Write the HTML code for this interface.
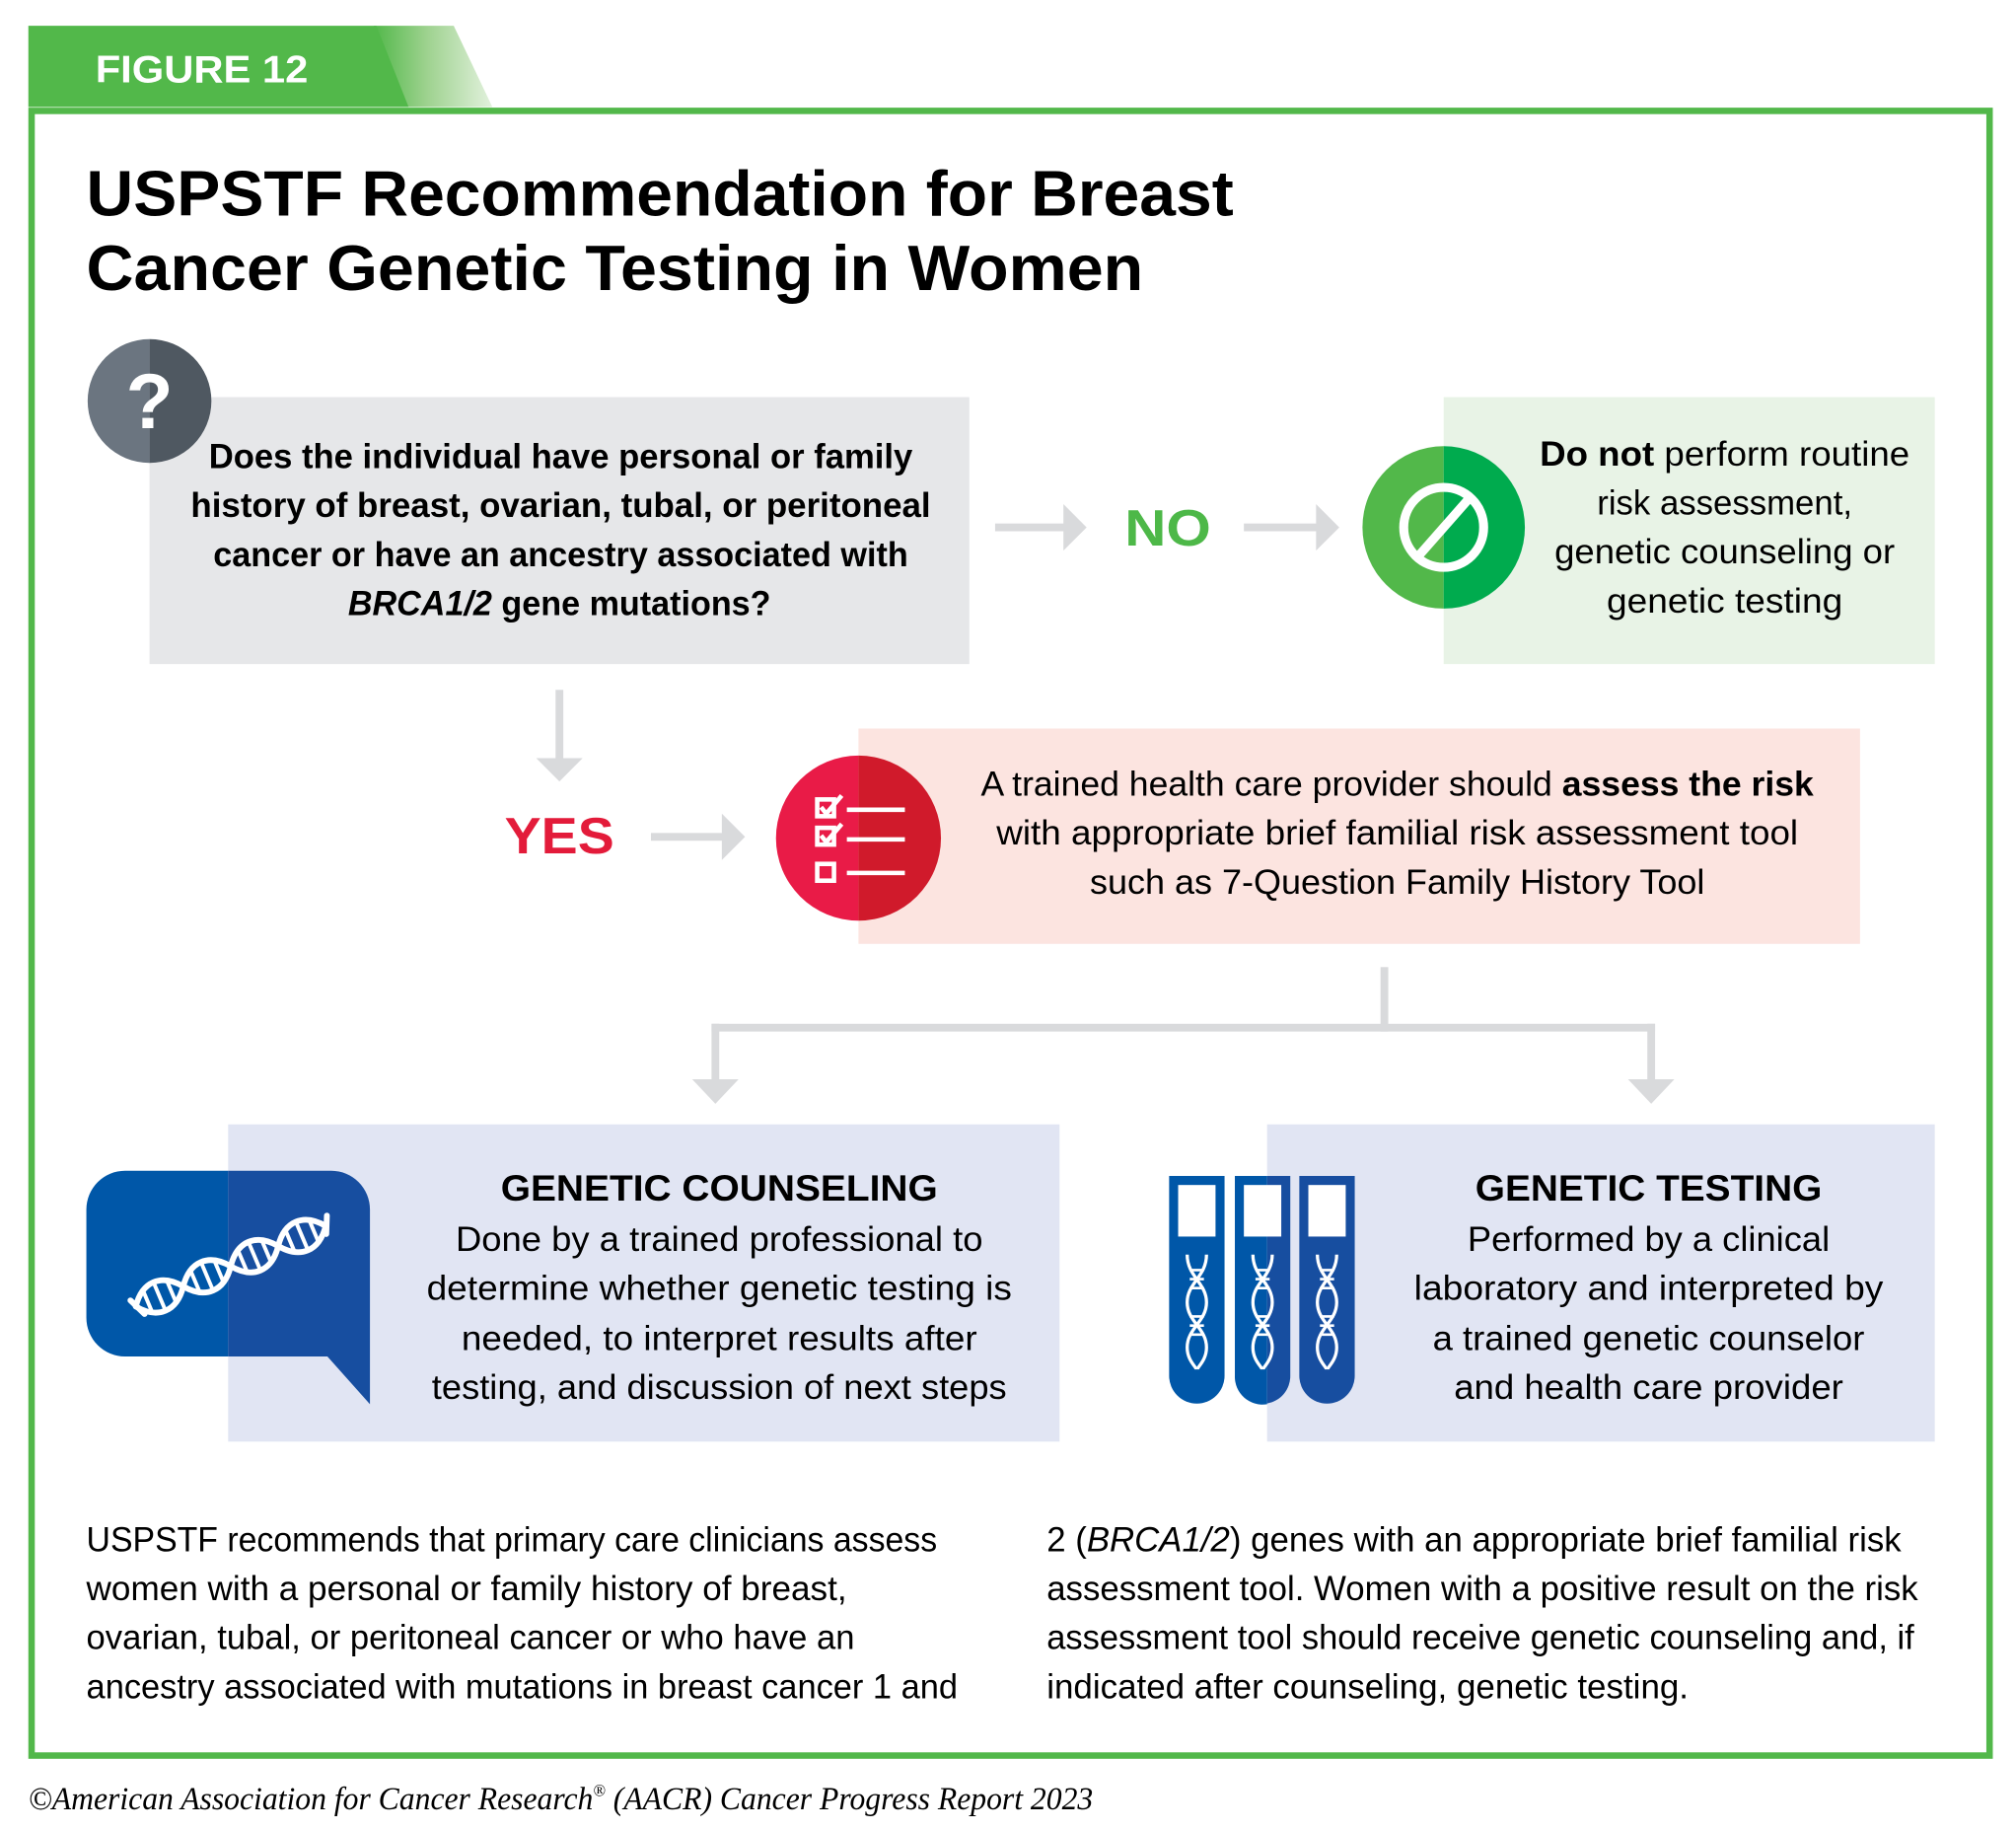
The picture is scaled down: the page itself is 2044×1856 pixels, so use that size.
<!DOCTYPE html>
<html><head><meta charset="utf-8"><style>
html,body{margin:0;padding:0;background:#fff;}
svg{display:block;}
text{font-family:"Liberation Sans",sans-serif;}
.b{font-weight:bold;}
</style></head><body>
<svg width="2044" height="1856" viewBox="0 0 1564 1420" preserveAspectRatio="none" xmlns="http://www.w3.org/2000/svg">
<defs>
<linearGradient id="tg" x1="0" x2="1" y1="0" y2="0">
<stop offset="0" stop-color="#52b84a"/><stop offset="0.45" stop-color="#9ed28f"/><stop offset="1" stop-color="#e2f1dd"/>
</linearGradient>
<clipPath id="cl1"><rect x="0" y="0" width="177" height="1420"/></clipPath>
<clipPath id="cl2"><rect x="177" y="0" width="400" height="1420"/></clipPath>
</defs>
<!-- tab -->
<polygon points="290,20 352,20 382,83 315,83" fill="url(#tg)"/>
<polygon points="22,20 292,20 317,83 22,83" fill="#52b84a"/>
<text x="74" y="64" class="b" font-size="30" fill="#fff" textLength="165" lengthAdjust="spacingAndGlyphs">FIGURE 12</text>
<!-- border -->
<rect x="24.5" y="86" width="1519" height="1275.5" fill="none" stroke="#52b84a" stroke-width="5"/>
<!-- title -->
<text x="67" y="167" class="b" font-size="50" fill="#000" textLength="890" lengthAdjust="spacingAndGlyphs">USPSTF Recommendation for Breast</text>
<text x="67" y="225" class="b" font-size="50" fill="#000" textLength="820" lengthAdjust="spacingAndGlyphs">Cancer Genetic Testing in Women</text>
<!-- gray box -->
<rect x="116" y="308" width="636" height="207" fill="#e6e7e9"/>
<path d="M116,263 A48,48 0 0 0 116,359 Z" fill="#6b7580"/>
<path d="M116,263 A48,48 0 0 1 116,359 Z" fill="#4f5861"/>
<text x="116" y="332" class="b" font-size="60" fill="#fff" text-anchor="middle">?</text>
<g class="b" font-size="27" fill="#000" text-anchor="middle">
<text x="435" y="363" textLength="546" lengthAdjust="spacingAndGlyphs">Does the individual have personal or family</text>
<text x="435" y="401" textLength="574" lengthAdjust="spacingAndGlyphs">history of breast, ovarian, tubal, or peritoneal</text>
<text x="435" y="439" textLength="539" lengthAdjust="spacingAndGlyphs">cancer or have an ancestry associated with</text>
<text x="434" y="477" textLength="328" lengthAdjust="spacingAndGlyphs"><tspan font-style="italic">BRCA1/2</tspan> gene mutations?</text>
</g>
<!-- arrows -->
<g fill="#d9dadc">
<rect x="772" y="406" width="55" height="6"/><polygon points="825,391 843,409 825,427"/>
<rect x="965" y="406" width="58" height="6"/><polygon points="1021,391 1039,409 1021,427"/>
<rect x="431" y="535" width="6" height="55"/><polygon points="416,588 434,606 452,588"/>
<rect x="505" y="646" width="57" height="6"/><polygon points="560,631 578,649 560,667"/>
</g>
<text x="906" y="423" class="b" font-size="40" fill="#4db848" text-anchor="middle" textLength="67" lengthAdjust="spacingAndGlyphs">NO</text>
<text x="434" y="662" class="b" font-size="40" fill="#e31b3a" text-anchor="middle" textLength="85" lengthAdjust="spacingAndGlyphs">YES</text>
<!-- green box -->
<rect x="1120" y="308" width="381" height="207" fill="#e8f3e6"/>
<path d="M1120,346 A63,63 0 0 0 1120,472 Z" fill="#52b84a"/>
<path d="M1120,346 A63,63 0 0 1 1120,472 Z" fill="#00ab4e"/>
<circle cx="1120" cy="409" r="31" fill="none" stroke="#fff" stroke-width="7"/>
<line x1="1098" y1="434" x2="1142" y2="384" stroke="#fff" stroke-width="7"/>
<g font-size="27" fill="#000" text-anchor="middle">
<text x="1338" y="361" textLength="287" lengthAdjust="spacingAndGlyphs"><tspan class="b">Do not</tspan> perform routine</text>
<text x="1338" y="399" textLength="198" lengthAdjust="spacingAndGlyphs">risk assessment,</text>
<text x="1338" y="437" textLength="264" lengthAdjust="spacingAndGlyphs">genetic counseling or</text>
<text x="1338" y="475" textLength="183" lengthAdjust="spacingAndGlyphs">genetic testing</text>
</g>
<!-- pink box -->
<rect x="666" y="565" width="777" height="167" fill="#fce4e0"/>
<path d="M666,586 A64,64 0 0 0 666,714 Z" fill="#e91b47"/>
<path d="M666,586 A64,64 0 0 1 666,714 Z" fill="#d01a2b"/>
<g stroke="#fff" stroke-width="3.5" fill="none">
<rect x="634" y="620" width="13" height="13"/><rect x="634" y="642" width="13" height="13"/><rect x="634" y="670" width="13" height="13"/>
<path d="M637,626 L641,631 L653,617"/><path d="M637,648 L641,653 L653,639"/>
<line x1="657" y1="628" x2="702" y2="628"/><line x1="657" y1="651" x2="702" y2="651"/><line x1="657" y1="677" x2="702" y2="677"/>
</g>
<g font-size="27" fill="#000" text-anchor="middle">
<text x="1084" y="617" textLength="646" lengthAdjust="spacingAndGlyphs">A trained health care provider should <tspan class="b">assess the risk</tspan></text>
<text x="1084" y="655" textLength="622" lengthAdjust="spacingAndGlyphs">with appropriate brief familial risk assessment tool</text>
<text x="1084" y="693" textLength="477" lengthAdjust="spacingAndGlyphs">such as 7-Question Family History Tool</text>
</g>
<!-- connector -->
<g fill="#d9dadc">
<rect x="1071" y="750" width="6" height="50"/>
<rect x="552" y="794" width="732" height="6"/>
<rect x="552" y="794" width="6" height="45"/><polygon points="537,837 555,856 573,837"/>
<rect x="1278" y="794" width="6" height="45"/><polygon points="1263,837 1281,856 1299,837"/>
</g>
<!-- GC box -->
<rect x="177" y="872" width="645" height="246" fill="#e1e5f3"/>
<path d="M97,908 H257 A30,30 0 0 1 287,938 V1089 L254,1052 H97 A30,30 0 0 1 67,1022 V938 A30,30 0 0 1 97,908 Z" fill="#0057a8" clip-path="url(#cl1)"/>
<path d="M97,908 H257 A30,30 0 0 1 287,938 V1089 L254,1052 H97 A30,30 0 0 1 67,1022 V938 A30,30 0 0 1 97,908 Z" fill="#174ea0" clip-path="url(#cl2)"/>
<g transform="translate(179,982) rotate(-23)">
<g stroke="#fff" stroke-width="4.5" fill="none" stroke-linecap="round">
<path d="M-80,0 C-68,-16 -52,-16 -40,0 S-12,16 0,0 S28,-16 40,0 S68,16 80,0"/>
<path d="M-80,0 C-68,16 -52,16 -40,0 S-12,-16 0,0 S28,16 40,0 S68,-16 80,0"/>
<path d="M-82,-6 L-76,8 M84,-7 L78,6"/>
</g>
<g stroke="#fff" stroke-width="3">
<path d="M-70,-9 v18 M-60,-12 v24 M-50,-9 v18 M-30,-9 v18 M-20,-12 v24 M-10,-9 v18 M10,-9 v18 M20,-12 v24 M30,-9 v18 M50,-9 v18 M60,-12 v24 M70,-9 v18"/>
</g>
</g>
<text x="558" y="931" class="b" font-size="28" fill="#000" text-anchor="middle" textLength="339" lengthAdjust="spacingAndGlyphs">GENETIC COUNSELING</text>
<g font-size="27" fill="#000" text-anchor="middle">
<text x="558" y="970" textLength="409" lengthAdjust="spacingAndGlyphs">Done by a trained professional to</text>
<text x="558" y="1008" textLength="454" lengthAdjust="spacingAndGlyphs">determine whether genetic testing is</text>
<text x="558" y="1047" textLength="400" lengthAdjust="spacingAndGlyphs">needed, to interpret results after</text>
<text x="558" y="1085" textLength="446" lengthAdjust="spacingAndGlyphs">testing, and discussion of next steps</text>
</g>
<!-- GT box -->
<rect x="983" y="872" width="518" height="246" fill="#e1e5f3"/>
<g>
<path d="M907,912 H950 V1067 A21.5,21.5 0 0 1 907,1067 Z" fill="#0057a8"/>
<path d="M958,912 H983 V1089 A21.5,21.5 0 0 1 958,1067 Z" fill="#0057a8"/>
<path d="M983,912 H1001 V1067 A21.5,21.5 0 0 1 983,1088.4 Z" fill="#174ea0"/>
<path d="M1008,912 H1051 V1067 A21.5,21.5 0 0 1 1008,1067 Z" fill="#174ea0"/>
<rect x="914" y="919" width="29" height="40" fill="#fff"/>
<rect x="965" y="919" width="29" height="40" fill="#fff"/>
<rect x="1015" y="919" width="29" height="40" fill="#fff"/>
<g stroke="#fff" stroke-width="2.5" fill="none">
<path d="M921,973 C921,990 936,995 936,1010 C936,1025 921,1030 921,1045 C921,1055 928,1060 928,1062 M936,973 C936,990 921,995 921,1010 C921,1025 936,1030 936,1045 C936,1055 929,1060 929,1062"/>
<path d="M972,973 C972,990 987,995 987,1010 C987,1025 972,1030 972,1045 C972,1055 979,1060 979,1062 M987,973 C987,990 972,995 972,1010 C972,1025 987,1030 987,1045 C987,1055 980,1060 980,1062"/>
<path d="M1022,973 C1022,990 1037,995 1037,1010 C1037,1025 1022,1030 1022,1045 C1022,1055 1029,1060 1029,1062 M1037,973 C1037,990 1022,995 1022,1010 C1022,1025 1037,1030 1037,1045 C1037,1055 1030,1060 1030,1062"/>
</g>
<g stroke="#fff" stroke-width="2">
<path d="M923,985 h11 M923,992 h11 M923,999 h11 M923,1021 h11 M923,1028 h11 M923,1035 h11"/>
<path d="M974,985 h11 M974,992 h11 M974,999 h11 M974,1021 h11 M974,1028 h11 M974,1035 h11"/>
<path d="M1024,985 h11 M1024,992 h11 M1024,999 h11 M1024,1021 h11 M1024,1028 h11 M1024,1035 h11"/>
</g>
</g>
<text x="1279" y="931" class="b" font-size="28" fill="#000" text-anchor="middle" textLength="269" lengthAdjust="spacingAndGlyphs">GENETIC TESTING</text>
<g font-size="27" fill="#000" text-anchor="middle">
<text x="1279" y="970" textLength="281" lengthAdjust="spacingAndGlyphs">Performed by a clinical</text>
<text x="1279" y="1008" textLength="364" lengthAdjust="spacingAndGlyphs">laboratory and interpreted by</text>
<text x="1279" y="1047" textLength="335" lengthAdjust="spacingAndGlyphs">a trained genetic counselor</text>
<text x="1279" y="1085" textLength="302" lengthAdjust="spacingAndGlyphs">and health care provider</text>
</g>
<!-- bottom text -->
<g font-size="27" fill="#000">
<text x="67" y="1203" textLength="660" lengthAdjust="spacingAndGlyphs">USPSTF recommends that primary care clinicians assess</text>
<text x="67" y="1241" textLength="590" lengthAdjust="spacingAndGlyphs">women with a personal or family history of breast,</text>
<text x="67" y="1279" textLength="596" lengthAdjust="spacingAndGlyphs">ovarian, tubal, or peritoneal cancer or who have an</text>
<text x="67" y="1317" textLength="676" lengthAdjust="spacingAndGlyphs">ancestry associated with mutations in breast cancer 1 and</text>
<text x="812" y="1203" textLength="663" lengthAdjust="spacingAndGlyphs">2 (<tspan font-style="italic">BRCA1/2</tspan>) genes with an appropriate brief familial risk</text>
<text x="812" y="1241" textLength="676" lengthAdjust="spacingAndGlyphs">assessment tool. Women with a positive result on the risk</text>
<text x="812" y="1279" textLength="673" lengthAdjust="spacingAndGlyphs">assessment tool should receive genetic counseling and, if</text>
<text x="812" y="1317" textLength="498" lengthAdjust="spacingAndGlyphs">indicated after counseling, genetic testing.</text>
</g>
<text x="22" y="1403" font-style="italic" font-size="25" fill="#000" textLength="826" lengthAdjust="spacingAndGlyphs" style="font-family:'Liberation Serif',serif">©American Association for Cancer Research<tspan font-size="13" dy="-10">®</tspan><tspan dy="10"> (AACR) Cancer Progress Report 2023</tspan></text>
</svg>
</body></html>
